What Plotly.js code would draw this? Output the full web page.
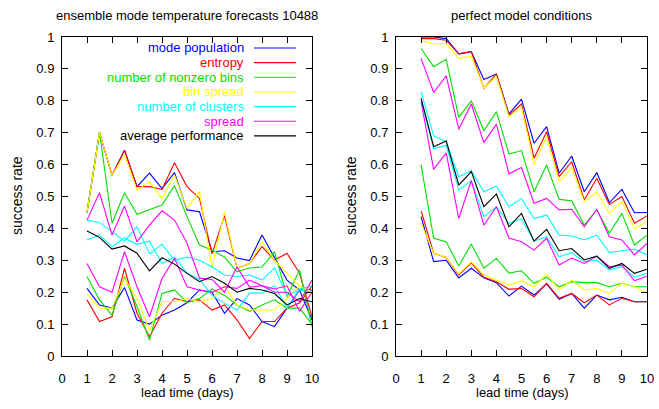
<!DOCTYPE html>
<html>
<head>
<meta charset="utf-8">
<script src="https://cdn.plot.ly/plotly-3.0.1.min.js"></script>
<style>
  html, body { margin: 0; padding: 0; background: #fff; }
  #chart { width: 659px; height: 409px; }
</style>
</head>
<body>
<div id="chart"></div>
<script>
// Lead times in days (half-day steps)
const leadTime = [1, 1.5, 2, 2.5, 3, 3.5, 4, 4.5, 5, 5.5, 6, 6.5, 7, 7.5, 8, 8.5, 9, 9.5, 10];

// Panel titles and legend labels
const panelTitles = ["ensemble mode temperature forecasts 10488", "perfect model conditions"];
const seriesNames = ["mode population", "entropy", "number of nonzero bins", "bin spread",
                     "number of clusters", "spread", "average performance"];
const seriesColors = ["#0000ff", "#ff0000", "#00e000", "#ffff00", "#00ffff", "#ff00ff", "#000000"];

// --- ensemble mode forecasts: success rate, upper and lower curve per measure ---
const ensModePopHi   = [0.45, 0.70, 0.567, 0.645, 0.531, 0.573, 0.525, 0.575, 0.458, 0.452, 0.327, 0.33, 0.307, 0.299, 0.379, 0.307, 0.238, 0.207, 0.113];
const ensModePopLo   = [0.212, 0.16, 0.15, 0.215, 0.113, 0.10, 0.128, 0.144, 0.167, 0.207, 0.20, 0.134, 0.18, 0.16, 0.108, 0.092, 0.15, 0.207, 0.207];
const ensEntropyHi   = [0.45, 0.70, 0.567, 0.645, 0.531, 0.531, 0.522, 0.606, 0.531, 0.494, 0.32, 0.44, 0.275, 0.29, 0.343, 0.301, 0.322, 0.26, 0.123];
const ensEntropyLo   = [0.176, 0.108, 0.123, 0.275, 0.134, 0.06, 0.134, 0.181, 0.17, 0.176, 0.144, 0.16, 0.113, 0.055, 0.108, 0.108, 0.15, 0.166, 0.22];
const ensNonzeroHi   = [0.448, 0.703, 0.416, 0.512, 0.444, 0.458, 0.473, 0.534, 0.437, 0.348, 0.332, 0.31, 0.264, 0.276, 0.279, 0.327, 0.186, 0.27, 0.092];
const ensNonzeroLo   = [0.249, 0.176, 0.128, 0.249, 0.155, 0.05, 0.196, 0.207, 0.167, 0.18, 0.21, 0.19, 0.16, 0.14, 0.16, 0.176, 0.15, 0.15, 0.10];
const ensBinSpreadHi = [0.45, 0.70, 0.567, 0.63, 0.52, 0.546, 0.494, 0.567, 0.463, 0.515, 0.276, 0.452, 0.275, 0.29, 0.358, 0.30, 0.26, 0.22, 0.186];
const ensBinSpreadLo = [0.196, 0.15, 0.15, 0.243, 0.181, 0.08, 0.17, 0.17, 0.18, 0.17, 0.18, 0.22, 0.16, 0.144, 0.144, 0.144, 0.18, 0.22, 0.20];
const ensClustersHi  = [0.426, 0.418, 0.39, 0.36, 0.405, 0.32, 0.35, 0.30, 0.31, 0.30, 0.28, 0.254, 0.249, 0.254, 0.238, 0.276, 0.19, 0.207, 0.20];
const ensClustersLo  = [0.364, 0.379, 0.343, 0.37, 0.35, 0.36, 0.29, 0.31, 0.26, 0.24, 0.19, 0.165, 0.144, 0.197, 0.197, 0.22, 0.15, 0.21, 0.22];
const ensSpreadHi    = [0.426, 0.512, 0.379, 0.47, 0.358, 0.41, 0.455, 0.426, 0.354, 0.244, 0.24, 0.20, 0.28, 0.216, 0.22, 0.20, 0.20, 0.17, 0.238];
const ensSpreadLo    = [0.29, 0.217, 0.20, 0.327, 0.217, 0.123, 0.243, 0.306, 0.217, 0.207, 0.20, 0.217, 0.212, 0.238, 0.22, 0.21, 0.22, 0.14, 0.20];
const ensAverage     = [0.392, 0.372, 0.335, 0.345, 0.322, 0.267, 0.308, 0.288, 0.259, 0.233, 0.249, 0.228, 0.20, 0.212, 0.207, 0.196, 0.16, 0.18, 0.17];

// --- perfect model conditions ---
const pmModePopHi   = [1.0, 1.0, 0.995, 0.947, 0.954, 0.867, 0.884, 0.759, 0.805, 0.667, 0.719, 0.573, 0.627, 0.515, 0.575, 0.481, 0.522, 0.449, 0.45];
const pmModePopLo   = [0.437, 0.296, 0.30, 0.245, 0.275, 0.245, 0.23, 0.188, 0.219, 0.191, 0.226, 0.178, 0.196, 0.15, 0.191, 0.176, 0.184, 0.17, 0.17];
const pmEntropyHi   = [0.995, 0.995, 0.99, 0.947, 0.954, 0.839, 0.884, 0.755, 0.79, 0.62, 0.703, 0.562, 0.609, 0.489, 0.557, 0.475, 0.50, 0.416, 0.439];
const pmEntropyLo   = [0.455, 0.322, 0.309, 0.254, 0.292, 0.247, 0.233, 0.209, 0.212, 0.186, 0.228, 0.181, 0.196, 0.167, 0.191, 0.16, 0.181, 0.17, 0.17];
const pmNonzeroHi   = [0.964, 0.907, 0.93, 0.748, 0.80, 0.706, 0.766, 0.633, 0.644, 0.515, 0.599, 0.491, 0.487, 0.41, 0.458, 0.385, 0.447, 0.348, 0.379];
const pmNonzeroLo   = [0.599, 0.369, 0.358, 0.282, 0.351, 0.275, 0.306, 0.26, 0.267, 0.228, 0.247, 0.217, 0.233, 0.23, 0.23, 0.217, 0.228, 0.217, 0.217];
const pmBinSpreadHi = [0.99, 0.978, 0.98, 0.933, 0.94, 0.84, 0.876, 0.75, 0.78, 0.60, 0.687, 0.547, 0.59, 0.484, 0.515, 0.447, 0.484, 0.40, 0.421];
const pmBinSpreadLo = [0.416, 0.322, 0.31, 0.257, 0.295, 0.254, 0.238, 0.222, 0.236, 0.217, 0.257, 0.207, 0.238, 0.207, 0.212, 0.196, 0.228, 0.217, 0.196];
const pmClustersHi  = [0.829, 0.69, 0.672, 0.562, 0.581, 0.515, 0.533, 0.468, 0.494, 0.431, 0.442, 0.379, 0.376, 0.364, 0.379, 0.324, 0.33, 0.335, 0.317];
const pmClustersLo  = [0.80, 0.65, 0.66, 0.52, 0.55, 0.437, 0.468, 0.416, 0.43, 0.36, 0.374, 0.311, 0.324, 0.296, 0.30, 0.27, 0.28, 0.247, 0.26];
const pmSpreadHi    = [0.933, 0.826, 0.878, 0.711, 0.79, 0.669, 0.727, 0.571, 0.591, 0.479, 0.494, 0.458, 0.46, 0.405, 0.46, 0.374, 0.364, 0.317, 0.353];
const pmSpreadLo    = [0.797, 0.585, 0.637, 0.431, 0.55, 0.41, 0.468, 0.37, 0.358, 0.332, 0.369, 0.285, 0.307, 0.29, 0.313, 0.28, 0.285, 0.236, 0.25];
const pmAverage     = [0.808, 0.656, 0.674, 0.536, 0.578, 0.468, 0.508, 0.405, 0.447, 0.36, 0.397, 0.33, 0.337, 0.301, 0.313, 0.275, 0.29, 0.259, 0.272];

// Curves per panel, in legend order (index into seriesNames / seriesColors)
const panels = [
  [[0, ensModePopHi], [0, ensModePopLo], [1, ensEntropyHi], [1, ensEntropyLo],
   [2, ensNonzeroHi], [2, ensNonzeroLo], [3, ensBinSpreadHi], [3, ensBinSpreadLo],
   [4, ensClustersHi], [4, ensClustersLo], [5, ensSpreadHi], [5, ensSpreadLo], [6, ensAverage]],
  [[0, pmModePopHi], [0, pmModePopLo], [1, pmEntropyHi], [1, pmEntropyLo],
   [2, pmNonzeroHi], [2, pmNonzeroLo], [3, pmBinSpreadHi], [3, pmBinSpreadLo],
   [4, pmClustersHi], [4, pmClustersLo], [5, pmSpreadHi], [5, pmSpreadLo], [6, pmAverage]]
];

const W = 659, H = 409;
const font = "Liberation Sans, Arial, sans-serif";
// plot frames in pixels: [left, right], shared top/bottom
const frames = [[62, 312], [396, 647]];
const frameTop = 37, frameBottom = 356;

const traces = [];
panels.forEach((curves, p) => {
  const sfx = p === 0 ? "" : "2";
  curves.forEach(([k, ys]) => {
    traces.push({
      type: "scatter", mode: "lines",
      x: leadTime, y: ys,
      xaxis: "x" + sfx, yaxis: "y" + sfx,
      line: { color: seriesColors[k], width: 1.1 },
      showlegend: false, hoverinfo: "skip"
    });
  });
});

function axisCommon(standoff) {
  return {
    showgrid: false, zeroline: false,
    showline: true, linecolor: "#000", linewidth: 1, mirror: "ticks",
    ticks: "inside", ticklen: 6, tickwidth: 1, tickcolor: "#000",
    ticklabelstandoff: standoff,
    tickfont: { family: font, size: 13, color: "#000" },
    fixedrange: true
  };
}
const yDom = [(H - frameBottom) / H, (H - frameTop) / H];

const layout = {
  width: W, height: H,
  margin: { l: 0, r: 0, t: 0, b: 0 },
  paper_bgcolor: "#fff", plot_bgcolor: "#fff",
  showlegend: false,
  xaxis:  Object.assign(axisCommon(10), { domain: [frames[0][0] / W, frames[0][1] / W], range: [0, 10], dtick: 1, tick0: 0, anchor: "y" }),
  yaxis:  Object.assign(axisCommon(4), { domain: yDom, range: [0, 1], dtick: 0.1, tick0: 0, anchor: "x" }),
  xaxis2: Object.assign(axisCommon(10), { domain: [frames[1][0] / W, frames[1][1] / W], range: [0, 10], dtick: 1, tick0: 0, anchor: "y2" }),
  yaxis2: Object.assign(axisCommon(4), { domain: yDom, range: [0, 1], dtick: 0.1, tick0: 0, anchor: "x2" }),
  annotations: [],
  shapes: []
};

const txt = { family: font, size: 13, color: "#000" };
frames.forEach((f, p) => {
  const cx = (f[0] + f[1]) / 2;
  layout.annotations.push({
    xref: "paper", yref: "paper", x: cx / W, y: 1 - 15 / H,
    text: panelTitles[p], showarrow: false, font: txt, xanchor: "center", yanchor: "middle"
  });
  layout.annotations.push({
    xref: "paper", yref: "paper", x: cx / W, y: 1 - 392 / H,
    text: "lead time (days)", showarrow: false, font: txt, xanchor: "center", yanchor: "middle"
  });
  layout.annotations.push({
    xref: "paper", yref: "paper", x: (f[0] - 45) / W, y: 1 - 196 / H,
    text: "success rate", showarrow: false, font: { family: font, size: 14, color: "#000" }, textangle: -90,
    xanchor: "center", yanchor: "middle"
  });
});

// Key in the upper right of the first panel: label right-aligned, line sample after it
seriesNames.forEach((name, k) => {
  const rowY = 48 + k * 14.65;
  layout.annotations.push({
    xref: "paper", yref: "paper", x: 246 / W, y: 1 - rowY / H,
    text: name, showarrow: false, xanchor: "right", yanchor: "middle",
    font: { family: font, size: 13, color: seriesColors[k] }
  });
  layout.shapes.push({
    type: "line", xref: "paper", yref: "paper",
    x0: 254 / W, x1: 296 / W, y0: 1 - rowY / H, y1: 1 - rowY / H,
    line: { color: seriesColors[k], width: 1.1 }
  });
});

Plotly.newPlot("chart", traces, layout, { staticPlot: true, displayModeBar: false });
</script>
</body>
</html>
